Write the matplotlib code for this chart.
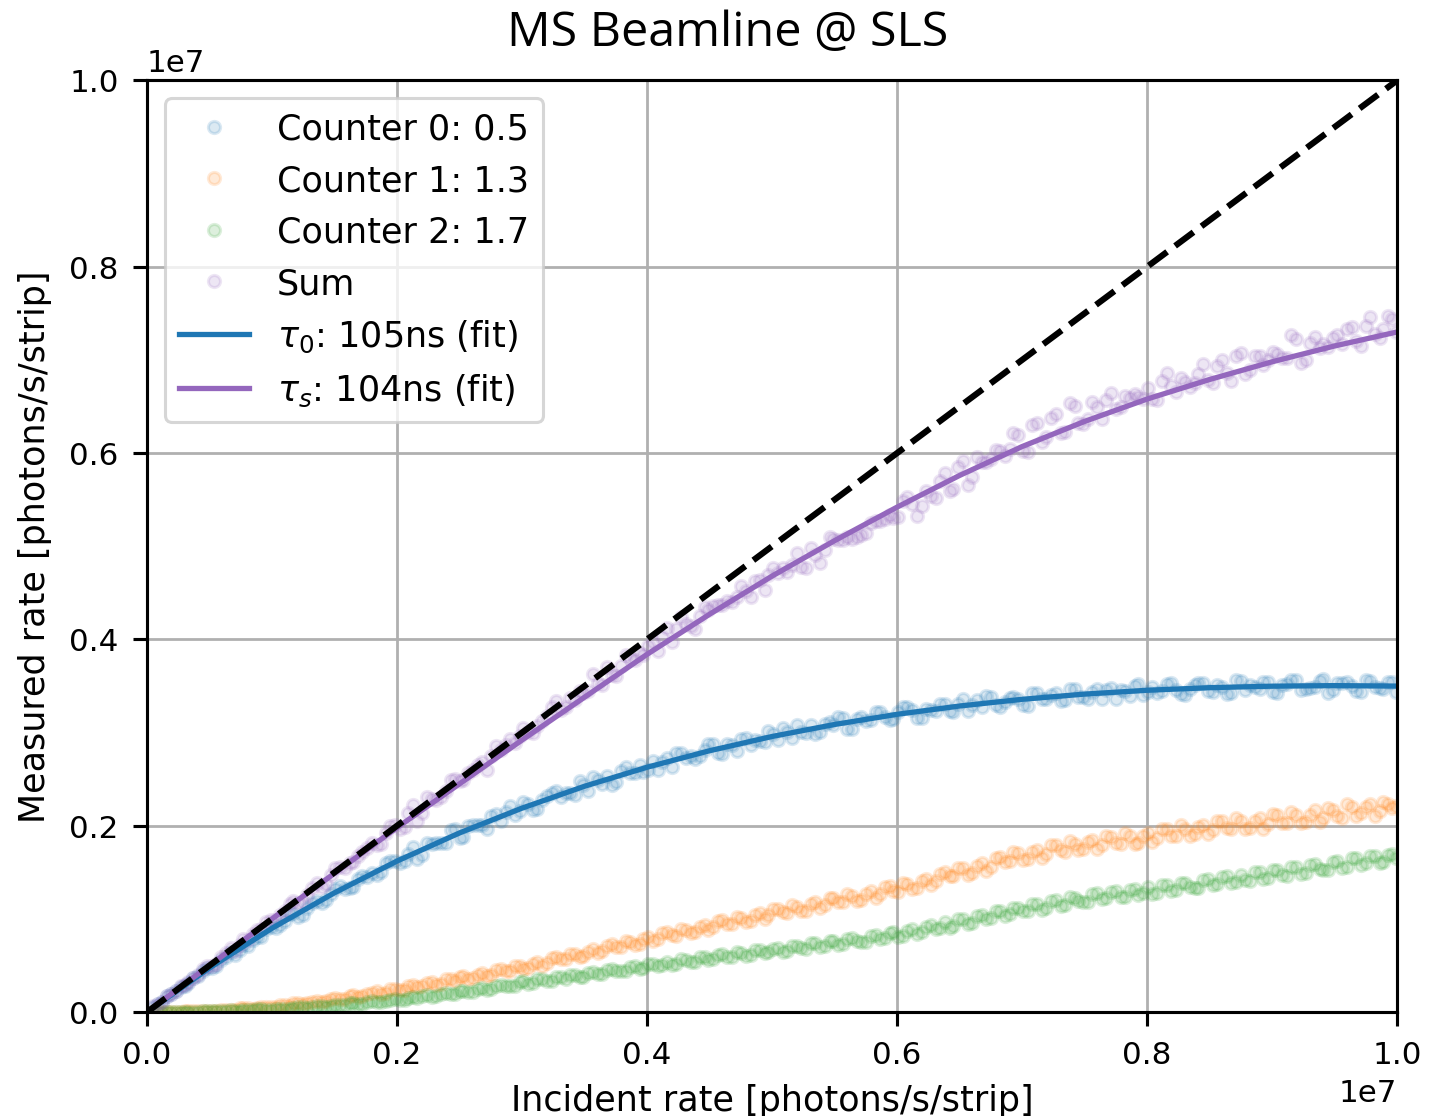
import numpy as np
import matplotlib
matplotlib.use("Agg")
import matplotlib.pyplot as plt

# Two interleaved scans of the incident rate [1e6 photons/s/strip]
scan_a_rate = [
    0.05, 0.12, 0.19, 0.27, 0.33, 0.41, 0.48, 0.55, 0.63, 0.70,
    0.77, 0.85, 0.91, 0.99, 1.06, 1.14, 1.21, 1.28, 1.36, 1.43,
    1.50, 1.58, 1.65, 1.72, 1.80, 1.87, 1.94, 2.02, 2.09, 2.16,
    2.24, 2.31, 2.39, 2.46, 2.53, 2.61, 2.68, 2.75, 2.83, 2.90,
    2.98, 3.05, 3.12, 3.20, 3.27, 3.35, 3.42, 3.49, 3.57, 3.64,
    3.72, 3.79, 3.86, 3.94, 4.01, 4.09, 4.16, 4.23, 4.31, 4.38,
    4.46, 4.53, 4.60, 4.68, 4.75, 4.83, 4.90, 4.97, 5.05, 5.12,
    5.20, 5.27, 5.34, 5.42, 5.49, 5.57, 5.64, 5.71, 5.79, 5.86,
    5.94, 6.01, 6.08, 6.16, 6.23, 6.31, 6.38, 6.45, 6.53, 6.60,
    6.68, 6.75, 6.82, 6.90, 6.97, 7.05, 7.12, 7.19, 7.27, 7.34,
    7.42, 7.49, 7.56, 7.64, 7.71, 7.79, 7.86, 7.93, 8.01, 8.08,
    8.16, 8.23, 8.30, 8.38, 8.45, 8.53, 8.60, 8.67, 8.75, 8.82,
    8.90, 8.97, 9.04, 9.12, 9.19, 9.27, 9.34, 9.41, 9.49, 9.56,
    9.64, 9.71, 9.78, 9.86, 9.93, 9.99,
]
scan_b_rate = [
    0.09, 0.16, 0.23, 0.30, 0.37, 0.45, 0.52, 0.59, 0.67, 0.74,
    0.81, 0.88, 0.95, 1.03, 1.10, 1.17, 1.25, 1.32, 1.40, 1.47,
    1.54, 1.62, 1.69, 1.76, 1.84, 1.91, 1.98, 2.06, 2.13, 2.20,
    2.28, 2.35, 2.43, 2.50, 2.57, 2.65, 2.72, 2.79, 2.87, 2.94,
    3.01, 3.09, 3.16, 3.24, 3.31, 3.38, 3.46, 3.53, 3.61, 3.68,
    3.75, 3.83, 3.90, 3.97, 4.05, 4.12, 4.20, 4.27, 4.35, 4.42,
    4.49, 4.57, 4.64, 4.72, 4.79, 4.86, 4.94, 5.01, 5.09, 5.16,
    5.23, 5.31, 5.38, 5.46, 5.53, 5.60, 5.68, 5.75, 5.83, 5.90,
    5.97, 6.05, 6.12, 6.20, 6.27, 6.34, 6.42, 6.49, 6.57, 6.64,
    6.71, 6.79, 6.86, 6.93, 7.01, 7.08, 7.16, 7.23, 7.31, 7.38,
    7.45, 7.53, 7.60, 7.67, 7.75, 7.82, 7.90, 7.97, 8.04, 8.12,
    8.19, 8.27, 8.34, 8.41, 8.49, 8.56, 8.64, 8.71, 8.78, 8.86,
    8.93, 9.01, 9.08, 9.15, 9.23, 9.30, 9.38, 9.45, 9.52, 9.60,
    9.67, 9.75, 9.82, 9.89, 9.96,
]

# Measured rate per counter, scan A [1e6 photons/s/strip]
scan_a_counter0 = [
    0.059, 0.106, 0.189, 0.274, 0.313, 0.392, 0.470, 0.496, 0.594, 0.614,
    0.719, 0.775, 0.805, 0.912, 0.931, 1.057, 1.020, 1.113, 1.194, 1.203,
    1.326, 1.325, 1.338, 1.461, 1.495, 1.498, 1.620, 1.603, 1.698, 1.643,
    1.819, 1.816, 1.820, 1.967, 1.879, 2.012, 2.004, 2.101, 2.054, 2.211,
    2.156, 2.228, 2.178, 2.321, 2.376, 2.347, 2.334, 2.442, 2.521, 2.444,
    2.439, 2.587, 2.571, 2.657, 2.602, 2.600, 2.723, 2.784, 2.723, 2.717,
    2.814, 2.874, 2.769, 2.868, 2.927, 2.869, 2.905, 3.017, 2.919, 3.004,
    3.085, 2.998, 2.986, 3.096, 3.084, 3.155, 3.043, 3.171, 3.135, 3.225,
    3.138, 3.221, 3.278, 3.157, 3.252, 3.229, 3.309, 3.224, 3.364, 3.292,
    3.274, 3.381, 3.271, 3.373, 3.361, 3.288, 3.423, 3.363, 3.425, 3.350,
    3.472, 3.382, 3.433, 3.357, 3.475, 3.460, 3.391, 3.523, 3.433, 3.421,
    3.523, 3.460, 3.404, 3.513, 3.532, 3.438, 3.493, 3.427, 3.558, 3.507,
    3.464, 3.542, 3.424, 3.522, 3.560, 3.464, 3.487, 3.570, 3.452, 3.534,
    3.503, 3.436, 3.555, 3.479, 3.545, 3.439,
]
scan_a_counter1 = [
    0.002, 0.001, 0.004, 0.003, 0.009, 0.006, 0.014, 0.014, 0.027, 0.026,
    0.040, 0.038, 0.053, 0.049, 0.071, 0.069, 0.099, 0.094, 0.121, 0.114,
    0.147, 0.144, 0.181, 0.169, 0.208, 0.198, 0.243, 0.235, 0.280, 0.264,
    0.310, 0.294, 0.352, 0.338, 0.387, 0.368, 0.415, 0.398, 0.464, 0.446,
    0.493, 0.470, 0.538, 0.525, 0.589, 0.565, 0.618, 0.599, 0.676, 0.657,
    0.726, 0.695, 0.753, 0.732, 0.811, 0.787, 0.857, 0.819, 0.882, 0.856,
    0.939, 0.916, 0.983, 0.945, 1.008, 0.977, 1.060, 1.037, 1.108, 1.063,
    1.132, 1.090, 1.178, 1.154, 1.227, 1.178, 1.248, 1.205, 1.300, 1.264,
    1.349, 1.289, 1.379, 1.333, 1.428, 1.402, 1.507, 1.462, 1.551, 1.491,
    1.595, 1.555, 1.665, 1.619, 1.709, 1.647, 1.744, 1.696, 1.795, 1.722,
    1.806, 1.748, 1.850, 1.792, 1.884, 1.806, 1.888, 1.819, 1.927, 1.866,
    1.967, 1.886, 1.970, 1.906, 2.010, 1.954, 2.054, 1.964, 2.050, 1.975,
    2.081, 2.021, 2.111, 2.029, 2.110, 2.043, 2.164, 2.086, 2.168, 2.086,
    2.200, 2.138, 2.235, 2.155, 2.237, 2.208,
]
scan_a_counter2 = [
    0.001, 0.000, 0.002, 0.001, 0.004, 0.003, 0.007, 0.007, 0.014, 0.014,
    0.022, 0.021, 0.029, 0.027, 0.038, 0.037, 0.053, 0.048, 0.065, 0.059,
    0.077, 0.074, 0.096, 0.089, 0.114, 0.106, 0.131, 0.126, 0.155, 0.147,
    0.180, 0.168, 0.205, 0.195, 0.230, 0.218, 0.262, 0.248, 0.292, 0.276,
    0.318, 0.305, 0.350, 0.334, 0.378, 0.358, 0.398, 0.381, 0.432, 0.412,
    0.458, 0.436, 0.480, 0.461, 0.512, 0.492, 0.540, 0.514, 0.561, 0.536,
    0.596, 0.570, 0.620, 0.590, 0.638, 0.608, 0.668, 0.642, 0.690, 0.657,
    0.710, 0.676, 0.738, 0.712, 0.768, 0.730, 0.790, 0.748, 0.818, 0.785,
    0.850, 0.805, 0.875, 0.840, 0.915, 0.890, 0.965, 0.925, 1.000, 0.955,
    1.040, 1.005, 1.085, 1.050, 1.120, 1.080, 1.160, 1.118, 1.200, 1.150,
    1.228, 1.185, 1.265, 1.215, 1.290, 1.232, 1.310, 1.255, 1.340, 1.282,
    1.365, 1.305, 1.388, 1.330, 1.415, 1.360, 1.448, 1.385, 1.470, 1.410,
    1.500, 1.440, 1.530, 1.465, 1.555, 1.495, 1.590, 1.520, 1.615, 1.550,
    1.650, 1.580, 1.670, 1.600, 1.690, 1.650,
]

# Measured rate per counter, scan B [1e6 photons/s/strip]
scan_b_counter0 = [
    0.082, 0.168, 0.221, 0.278, 0.362, 0.443, 0.473, 0.554, 0.643, 0.669,
    0.714, 0.807, 0.887, 0.903, 0.976, 1.060, 1.041, 1.169, 1.170, 1.268,
    1.348, 1.333, 1.430, 1.453, 1.467, 1.595, 1.622, 1.620, 1.775, 1.682,
    1.805, 1.811, 1.949, 1.871, 1.998, 2.003, 1.965, 2.122, 2.150, 2.112,
    2.254, 2.164, 2.272, 2.355, 2.305, 2.353, 2.480, 2.376, 2.492, 2.535,
    2.474, 2.627, 2.565, 2.579, 2.691, 2.685, 2.632, 2.784, 2.752, 2.747,
    2.876, 2.781, 2.878, 2.797, 2.947, 2.923, 2.903, 2.984, 3.049, 2.939,
    3.002, 3.083, 3.004, 3.115, 3.169, 3.042, 3.141, 3.120, 3.219, 3.167,
    3.144, 3.273, 3.247, 3.157, 3.244, 3.310, 3.234, 3.306, 3.235, 3.350,
    3.390, 3.297, 3.330, 3.385, 3.291, 3.426, 3.360, 3.398, 3.340, 3.468,
    3.385, 3.355, 3.466, 3.457, 3.359, 3.447, 3.499, 3.407, 3.494, 3.446,
    3.533, 3.417, 3.473, 3.537, 3.444, 3.507, 3.419, 3.563, 3.461, 3.487,
    3.541, 3.438, 3.514, 3.568, 3.456, 3.480, 3.556, 3.428, 3.534, 3.541,
    3.450, 3.562, 3.486, 3.463, 3.544,
]
scan_b_counter1 = [
    0.001, 0.002, 0.002, 0.006, 0.006, 0.012, 0.012, 0.024, 0.024, 0.039,
    0.040, 0.040, 0.059, 0.054, 0.075, 0.092, 0.087, 0.108, 0.107, 0.140,
    0.137, 0.174, 0.163, 0.194, 0.222, 0.207, 0.244, 0.236, 0.291, 0.282,
    0.322, 0.302, 0.353, 0.380, 0.359, 0.402, 0.388, 0.452, 0.441, 0.494,
    0.463, 0.519, 0.498, 0.577, 0.568, 0.624, 0.593, 0.649, 0.631, 0.712,
    0.693, 0.764, 0.720, 0.786, 0.759, 0.844, 0.826, 0.894, 0.848, 0.910,
    0.877, 0.975, 0.944, 1.022, 0.966, 1.041, 0.998, 1.103, 1.073, 1.147,
    1.080, 1.156, 1.114, 1.220, 1.178, 1.266, 1.197, 1.265, 1.226, 1.339,
    1.297, 1.388, 1.318, 1.412, 1.362, 1.487, 1.456, 1.551, 1.475, 1.570,
    1.516, 1.654, 1.610, 1.715, 1.637, 1.719, 1.658, 1.790, 1.739, 1.836,
    1.738, 1.825, 1.751, 1.887, 1.815, 1.921, 1.809, 1.890, 1.823, 1.964,
    1.888, 2.004, 1.893, 1.982, 1.908, 2.053, 1.980, 2.084, 1.964, 2.055,
    1.970, 2.122, 2.033, 2.149, 2.027, 2.118, 2.036, 2.187, 2.104, 2.228,
    2.101, 2.200, 2.108, 2.260, 2.193,
]
scan_b_counter2 = [
    0.000, 0.001, 0.001, 0.003, 0.002, 0.006, 0.009, 0.008, 0.018, 0.016,
    0.018, 0.029, 0.025, 0.036, 0.034, 0.041, 0.058, 0.052, 0.070, 0.061,
    0.073, 0.094, 0.085, 0.111, 0.103, 0.121, 0.138, 0.128, 0.160, 0.170,
    0.162, 0.198, 0.190, 0.226, 0.212, 0.251, 0.240, 0.285, 0.278, 0.285,
    0.330, 0.316, 0.356, 0.338, 0.372, 0.398, 0.375, 0.420, 0.406, 0.455,
    0.438, 0.440, 0.495, 0.470, 0.520, 0.500, 0.510, 0.565, 0.542, 0.590,
    0.560, 0.615, 0.594, 0.640, 0.605, 0.662, 0.630, 0.680, 0.648, 0.712,
    0.690, 0.742, 0.698, 0.760, 0.722, 0.788, 0.765, 0.752, 0.830, 0.790,
    0.862, 0.820, 0.890, 0.860, 0.935, 0.905, 0.905, 0.995, 0.950, 1.035,
    0.995, 1.080, 1.030, 1.115, 1.090, 1.155, 1.100, 1.190, 1.140, 1.230,
    1.195, 1.185, 1.275, 1.222, 1.300, 1.240, 1.325, 1.280, 1.265, 1.360,
    1.300, 1.390, 1.345, 1.330, 1.430, 1.370, 1.460, 1.400, 1.420, 1.500,
    1.430, 1.525, 1.470, 1.555, 1.485, 1.580, 1.540, 1.525, 1.625, 1.560,
    1.655, 1.600, 1.680, 1.610, 1.700,
]

# Fitted dead-time curves [1e6 photons/s/strip]
fit_rate = [0.0, 0.5, 1.0, 1.5, 2.0, 2.5, 3.0, 3.5, 4.0, 4.5, 5.0,
            5.5, 6.0, 6.5, 7.0, 7.5, 8.0, 8.5, 9.0, 9.5, 10.0]
fit_counter0 = [0.000, 0.474, 0.900, 1.281, 1.621, 1.923, 2.189, 2.424,
                2.628, 2.805, 2.958, 3.087, 3.196, 3.285, 3.357, 3.413,
                3.454, 3.482, 3.498, 3.504, 3.499]
fit_sum = [0.000, 0.500, 1.000, 1.490, 1.980, 2.450, 2.920, 3.380, 3.840,
           4.270, 4.680, 5.060, 5.420, 5.760, 6.070, 6.340, 6.580, 6.790,
           6.980, 7.150, 7.300]

thresholds = ["0.5", "1.3", "1.7"]
tau0_ns = 105
taus_ns = 104

scale = 1e6
x = np.concatenate([scan_a_rate, scan_b_rate]) * scale
c0 = np.concatenate([scan_a_counter0, scan_b_counter0]) * scale
c1 = np.concatenate([scan_a_counter1, scan_b_counter1]) * scale
c2 = np.concatenate([scan_a_counter2, scan_b_counter2]) * scale
total = c0 + c1 + c2

fig = plt.figure(figsize=(6.4, 5.0), dpi=223.3)
ax = fig.add_axes([0.1029, 0.0931, 0.8747, 0.8344])

pt = dict(linestyle="none", marker="o", ms=3.9, alpha=0.16)
ax.plot(x, c0, color="tab:blue", label=f"Counter 0: {thresholds[0]}", **pt)
ax.plot(x, c1, color="tab:orange", label=f"Counter 1: {thresholds[1]}", **pt)
ax.plot(x, c2, color="tab:green", label=f"Counter 2: {thresholds[2]}", **pt)
ax.plot(x, total, color="tab:purple", label="Sum", **pt)

fx = np.array(fit_rate) * scale
ax.plot(fx, np.array(fit_counter0) * scale, color="tab:blue", lw=1.7,
        label=rf"$\tau_0$: {tau0_ns}ns (fit)")
ax.plot(fx, np.array(fit_sum) * scale, color="tab:purple", lw=1.7,
        label=rf"$\tau_s$: {taus_ns}ns (fit)")
ax.plot([0, 1e7], [0, 1e7], "k--", lw=2.0)

ax.set_xlim(0, 1e7)
ax.set_ylim(0, 1e7)
ax.grid(True, color="#b0b0b0", lw=0.9)
for sp in ax.spines.values():
    sp.set_linewidth(1.0)
ax.tick_params(length=4.6, width=1.0, pad=4.6, labelsize=10)
ax.set_xlabel("Incident rate [photons/s/strip]", fontsize=11.3, labelpad=4.5)
ax.set_ylabel("Measured rate [photons/s/strip]", fontsize=11.3, labelpad=5.5)
ax.legend(loc="upper left", fontsize=11.3)

fig.text(0.509, 0.970, "MS Beamline @ SLS", ha="center", va="center",
         fontsize=15.6, family=["Open Sans", "DejaVu Sans"])

fig.savefig("out.png", dpi=223.3)
